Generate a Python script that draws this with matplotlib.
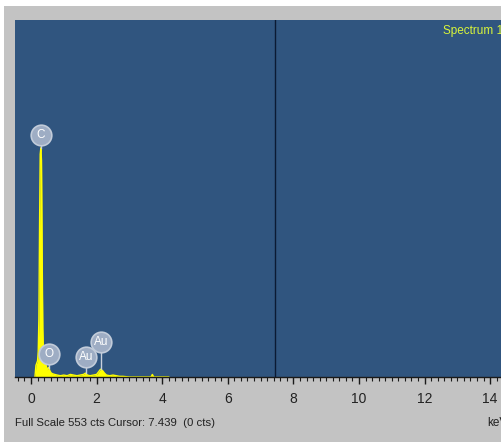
import numpy as np
import matplotlib.pyplot as plt
from matplotlib.ticker import MultipleLocator

plt.rcParams['font.family'] = ['Liberation Sans', 'DejaVu Sans']

# EDS spectrum (keV, counts)
energy = [0.12, 0.15, 0.20, 0.22, 0.24, 0.26, 0.28, 0.30, 0.32, 0.34,
          0.36, 0.38, 0.42, 0.46, 0.50, 0.54, 0.58, 0.62, 0.66, 0.72,
          0.80, 0.90, 1.00, 1.10, 1.20, 1.30, 1.40, 1.50, 1.60, 1.66,
          1.72, 1.80, 1.90, 2.00, 2.06, 2.12, 2.18, 2.24, 2.30, 2.40,
          2.50, 2.60, 2.70, 2.80, 3.00, 3.50, 3.66, 3.70, 3.74, 4.20]
counts = [0, 18, 25, 40, 90, 230, 345, 355, 335, 190,
          75, 35, 22, 18, 11, 15, 9, 6, 5, 4,
          3, 2, 3, 2, 4, 3, 2, 3, 4, 6,
          3, 2, 3, 4, 8, 12, 10, 6, 3, 2,
          3, 2, 1, 1, 0, 0, 0, 4, 0, 0]

# element markers
label_el = ['C', 'O', 'Au', 'Au']
label_kev = [0.30, 0.55, 1.68, 2.13]
label_cts = [375, 36, 31, 54]
stem_cts = [355, 14, 6, 12]

full_scale = 553
cursor_kev = 7.439
x_ticks = [0, 2, 4, 6, 8, 10, 12, 14]

W, H = 501, 442
fig = plt.figure(figsize=(W / 100, H / 100), dpi=100)
fig.patch.set_facecolor('white')

# grey window frame behind the plot
frame = fig.add_axes([4 / W, 0, (W - 4) / W, (H - 6) / H])
frame.set_facecolor('#c3c3c3')
frame.set_xticks([])
frame.set_yticks([])
for s in frame.spines.values():
    s.set_visible(False)

ax = fig.add_axes([15 / W, 65 / H, 486 / W, 357 / H])
ax.set_facecolor('#30557f')
ax.set_xlim(-0.488, 14.33)
ax.set_ylim(0, full_scale)

ax.fill_between(energy, counts, color='#ffff00', linewidth=0, zorder=2)
ax.plot(energy, counts, color='#ffff00', linewidth=1.0, zorder=2)

ax.axvline(cursor_kev, color='#0b1a33', linewidth=1.0, zorder=3)

for el, xk, yc, ys in zip(label_el, label_kev, label_cts, stem_cts):
    ax.plot([xk, xk], [ys, yc], color='#c8d0dc', linewidth=1.0, zorder=3)
    ax.scatter([xk], [yc], s=220, color='#9eadc4', edgecolor='#c2ccda',
               linewidth=1.2, zorder=4)
    ax.text(xk, yc, el, color='white', fontsize=8.5, ha='center', va='center', zorder=5)

for side in ['top', 'left', 'right']:
    ax.spines[side].set_visible(False)
ax.spines['bottom'].set_color('#1a1a1a')
ax.spines['bottom'].set_linewidth(1.0)

ax.set_yticks([])
ax.set_xticks(x_ticks)
ax.xaxis.set_minor_locator(MultipleLocator(0.2))
ax.tick_params(axis='x', which='major', direction='out', length=5, width=1,
               color='#1a1a1a', labelsize=10, labelcolor='#222222', pad=6)
ax.tick_params(axis='x', which='minor', direction='out', length=3, width=0.8,
               color='#1a1a1a')

fig.text(15 / W, 1 - 423 / H, 'Full Scale %d cts Cursor: %.3f  (0 cts)' % (full_scale, cursor_kev),
         fontsize=8.2, color='#222222', ha='left', va='center')
fig.text(487 / W, 1 - 423 / H, 'keV', fontsize=8.5, color='#222222', ha='left', va='center')
fig.text(443 / W, 1 - 31 / H, 'Spectrum 19', fontsize=8.5, color='#d9f53a',
         ha='left', va='center')

fig.savefig('out.png', dpi=100)
